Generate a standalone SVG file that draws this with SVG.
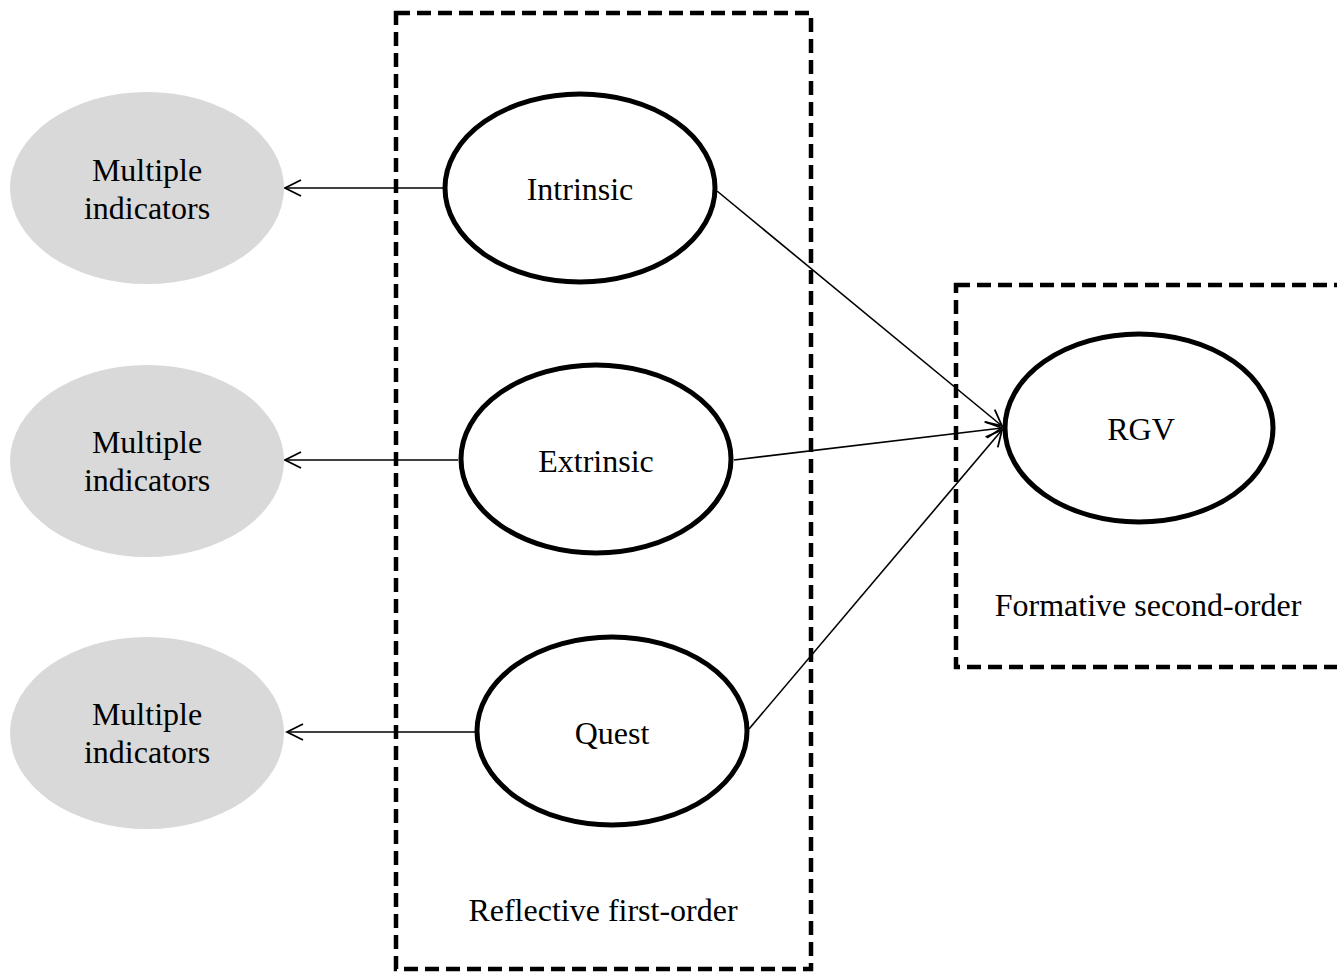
<svg xmlns="http://www.w3.org/2000/svg" width="1337" height="976" viewBox="0 0 1337 976">
<style>
.box{fill:none;stroke:#000;stroke-width:4.5;stroke-dasharray:14 7}
.ind{fill:#d9d9d9;stroke:none}
.lat{fill:#fff;stroke:#000;stroke-width:5}
.t{font-family:"Liberation Serif","Times New Roman",serif;font-size:32px;fill:#000;text-anchor:middle}
.c{fill:none;stroke:#000;stroke-width:1.6}
</style>
<defs>
<marker id="arr" viewBox="0 0 20 20" refX="18" refY="10" markerWidth="20" markerHeight="20" markerUnits="userSpaceOnUse" orient="auto">
<path d="M2,2 L18,10 L2,18" fill="none" stroke="#000" stroke-width="1.8"/>
</marker>
</defs>
<rect class="box" x="396" y="13" width="415" height="956"/>
<rect class="box" x="956" y="285" width="420" height="382"/>
<g id="connectors">
<line class="c" x1="443" y1="188" x2="285" y2="188" marker-end="url(#arr)"/>
<line class="c" x1="458" y1="460" x2="285" y2="460" marker-end="url(#arr)"/>
<line class="c" x1="475" y1="732" x2="287" y2="732" marker-end="url(#arr)"/>
<line class="c" x1="717" y1="191" x2="1002" y2="426" marker-end="url(#arr)"/>
<line class="c" x1="734" y1="460" x2="1002" y2="428" marker-end="url(#arr)"/>
<line class="c" x1="749" y1="729" x2="1002" y2="430" marker-end="url(#arr)"/>
</g>
<g id="ind1"><ellipse class="ind" cx="147" cy="188" rx="137" ry="96"/><text class="t" x="147" y="181">Multiple</text><text class="t" x="147" y="219">indicators</text></g>
<g id="ind2"><ellipse class="ind" cx="147" cy="461" rx="137" ry="96"/><text class="t" x="147" y="453">Multiple</text><text class="t" x="147" y="491">indicators</text></g>
<g id="ind3"><ellipse class="ind" cx="147" cy="733" rx="137" ry="96"/><text class="t" x="147" y="725">Multiple</text><text class="t" x="147" y="763">indicators</text></g>
<g id="intrinsic"><ellipse class="lat" cx="580" cy="188" rx="135" ry="94"/><text class="t" x="580" y="200">Intrinsic</text></g>
<g id="extrinsic"><ellipse class="lat" cx="596" cy="459" rx="135" ry="94"/><text class="t" x="596" y="472">Extrinsic</text></g>
<g id="quest"><ellipse class="lat" cx="612" cy="731" rx="135" ry="94"/><text class="t" x="612" y="744">Quest</text></g>
<g id="rgv"><ellipse class="lat" cx="1139" cy="428" rx="134" ry="94"/><text class="t" x="1141" y="440">RGV</text></g>
<text class="t" x="603" y="921">Reflective first-order</text>
<text class="t" x="1148" y="616">Formative second-order</text>
</svg>
